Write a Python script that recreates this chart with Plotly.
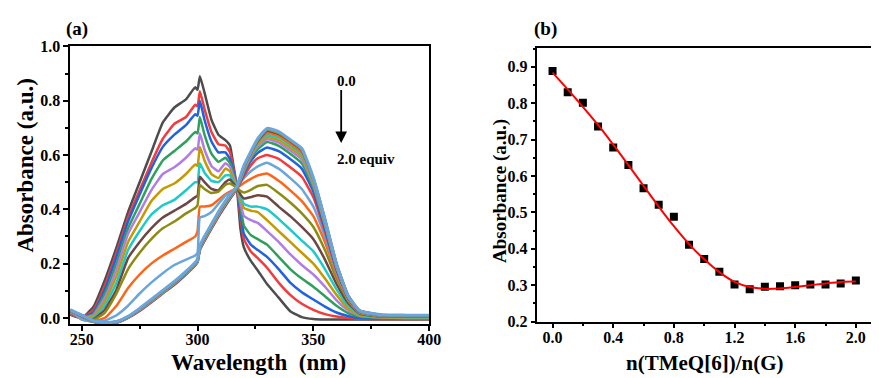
import plotly.graph_objects as go

# ---------------- Panel (a): UV-vis titration spectra ----------------
WL = [245, 250, 255, 260, 265, 270, 275, 280, 285, 290, 295, 299, 300, 301, 303, 306, 309, 312, 314, 315.5,
      317, 318.5, 320, 323, 326, 330, 335, 340, 345, 350, 355, 360, 365, 370, 380, 390, 400]

A00 = [0.012, 0.0, 0.04, 0.14, 0.26, 0.39, 0.50, 0.61, 0.72, 0.775, 0.805, 0.85, 0.84, 0.89, 0.83, 0.73, 0.675, 0.655, 0.635, 0.56,
       0.48, 0.33, 0.26, 0.21, 0.175, 0.125, 0.075, 0.025, 0.003, -0.004, -0.006, -0.006, -0.006, -0.006, -0.006, -0.006, -0.006]
A01 = [0.015, 0.0, 0.03, 0.12, 0.24, 0.37, 0.47, 0.57, 0.66, 0.715, 0.74, 0.785, 0.78, 0.835, 0.77, 0.685, 0.64, 0.635, 0.61, 0.55,
       0.48, 0.37, 0.29, 0.245, 0.22, 0.185, 0.13, 0.085, 0.052, 0.03, 0.014, 0.005, 0.0, -0.003, -0.004, -0.004, -0.004]
A02 = [0.018, 0.0, 0.02, 0.105, 0.225, 0.355, 0.455, 0.55, 0.63, 0.675, 0.71, 0.75, 0.745, 0.80, 0.73, 0.65, 0.61, 0.61, 0.585, 0.54,
       0.48, 0.39, 0.31, 0.27, 0.25, 0.225, 0.18, 0.13, 0.095, 0.068, 0.042, 0.02, 0.007, 0.0, -0.002, -0.003, -0.003]
A03 = [0.02, 0.0, 0.015, 0.09, 0.20, 0.33, 0.42, 0.51, 0.58, 0.615, 0.65, 0.685, 0.68, 0.74, 0.675, 0.605, 0.575, 0.59, 0.57, 0.53,
       0.48, 0.41, 0.34, 0.305, 0.29, 0.27, 0.225, 0.18, 0.145, 0.115, 0.08, 0.045, 0.018, 0.005, 0.0, -0.002, -0.002]
A04 = [0.02, 0.0, 0.01, 0.075, 0.18, 0.31, 0.39, 0.47, 0.53, 0.555, 0.59, 0.625, 0.62, 0.68, 0.62, 0.56, 0.54, 0.57, 0.555, 0.52,
       0.48, 0.425, 0.375, 0.36, 0.35, 0.32, 0.28, 0.235, 0.195, 0.16, 0.115, 0.065, 0.028, 0.008, 0.002, 0.0, 0.0]
A05 = [0.022, 0.0, 0.005, 0.06, 0.155, 0.28, 0.355, 0.43, 0.475, 0.495, 0.53, 0.565, 0.56, 0.63, 0.58, 0.53, 0.515, 0.55, 0.54, 0.51,
       0.48, 0.44, 0.405, 0.395, 0.39, 0.36, 0.32, 0.28, 0.24, 0.2, 0.145, 0.085, 0.035, 0.01, 0.003, 0.002, 0.002]
A06 = [0.024, -0.002, 0.0, 0.045, 0.13, 0.25, 0.32, 0.38, 0.415, 0.435, 0.47, 0.50, 0.50, 0.57, 0.535, 0.505, 0.50, 0.525, 0.525, 0.50,
       0.48, 0.45, 0.42, 0.41, 0.41, 0.40, 0.365, 0.325, 0.285, 0.245, 0.18, 0.105, 0.045, 0.013, 0.004, 0.003, 0.003]
A07 = [0.025, -0.004, -0.005, 0.03, 0.105, 0.22, 0.28, 0.33, 0.37, 0.395, 0.42, 0.445, 0.45, 0.52, 0.50, 0.475, 0.47, 0.50, 0.51, 0.495,
       0.48, 0.455, 0.44, 0.445, 0.452, 0.447, 0.41, 0.375, 0.335, 0.29, 0.215, 0.125, 0.055, 0.016, 0.005, 0.004, 0.004]
A08 = [0.026, -0.005, -0.008, 0.02, 0.09, 0.18, 0.24, 0.29, 0.33, 0.355, 0.385, 0.405, 0.415, 0.49, 0.475, 0.46, 0.465, 0.49, 0.495, 0.488,
       0.48, 0.468, 0.462, 0.472, 0.486, 0.49, 0.46, 0.425, 0.385, 0.335, 0.25, 0.145, 0.063, 0.018, 0.006, 0.005, 0.005]
A09 = [0.026, -0.006, -0.012, 0.0, 0.045, 0.11, 0.16, 0.20, 0.23, 0.255, 0.28, 0.30, 0.32, 0.41, 0.41, 0.415, 0.435, 0.455, 0.465, 0.472,
       0.48, 0.488, 0.497, 0.512, 0.525, 0.532, 0.505, 0.47, 0.43, 0.375, 0.28, 0.16, 0.068, 0.02, 0.007, 0.006, 0.006]
A10 = [0.027, -0.005, -0.015, -0.01, 0.01, 0.045, 0.09, 0.13, 0.165, 0.195, 0.215, 0.23, 0.24, 0.37, 0.375, 0.39, 0.42, 0.45, 0.46, 0.47,
       0.482, 0.50, 0.515, 0.54, 0.558, 0.572, 0.55, 0.515, 0.475, 0.41, 0.30, 0.168, 0.07, 0.021, 0.008, 0.007, 0.007]
A11 = [0.026, 0.006, -0.014, -0.022, -0.018, 0.0, 0.026, 0.057, 0.09, 0.122, 0.16, 0.193, 0.205, 0.25, 0.283, 0.328, 0.372, 0.412, 0.438, 0.456,
       0.476, 0.498, 0.522, 0.562, 0.588, 0.60, 0.586, 0.555, 0.52, 0.445, 0.318, 0.174, 0.072, 0.022, 0.008, 0.007, 0.007]
A12 = [0.027, 0.007, -0.013, -0.021, -0.017, 0.001, 0.028, 0.059, 0.092, 0.124, 0.162, 0.195, 0.207, 0.252, 0.286, 0.331, 0.375, 0.415, 0.44, 0.458,
       0.478, 0.502, 0.532, 0.578, 0.608, 0.628, 0.614, 0.585, 0.55, 0.465, 0.33, 0.18, 0.074, 0.023, 0.008, 0.007, 0.007]
A13 = [0.027, 0.007, -0.012, -0.021, -0.016, 0.002, 0.029, 0.06, 0.093, 0.126, 0.163, 0.196, 0.208, 0.253, 0.288, 0.333, 0.378, 0.418, 0.443, 0.46,
       0.479, 0.506, 0.538, 0.588, 0.622, 0.648, 0.634, 0.605, 0.57, 0.48, 0.34, 0.185, 0.076, 0.024, 0.009, 0.008, 0.008]
A14 = [0.028, 0.008, -0.012, -0.02, -0.016, 0.002, 0.03, 0.061, 0.094, 0.127, 0.164, 0.197, 0.209, 0.254, 0.289, 0.334, 0.379, 0.419, 0.444, 0.461,
       0.48, 0.508, 0.543, 0.594, 0.632, 0.658, 0.646, 0.617, 0.584, 0.49, 0.345, 0.188, 0.077, 0.024, 0.009, 0.008, 0.008]
A15 = [0.028, 0.008, -0.012, -0.02, -0.015, 0.003, 0.031, 0.062, 0.095, 0.128, 0.165, 0.198, 0.21, 0.255, 0.29, 0.335, 0.38, 0.42, 0.445, 0.462,
       0.48, 0.512, 0.548, 0.6, 0.638, 0.666, 0.655, 0.627, 0.595, 0.497, 0.35, 0.19, 0.078, 0.025, 0.009, 0.008, 0.008]
A16 = [0.028, 0.008, -0.011, -0.02, -0.015, 0.003, 0.031, 0.063, 0.096, 0.129, 0.166, 0.199, 0.211, 0.257, 0.292, 0.337, 0.382, 0.422, 0.446, 0.463,
       0.481, 0.514, 0.551, 0.603, 0.644, 0.674, 0.664, 0.636, 0.603, 0.502, 0.353, 0.192, 0.079, 0.025, 0.009, 0.008, 0.008]
A17 = [0.029, 0.009, -0.011, -0.019, -0.014, 0.004, 0.032, 0.064, 0.097, 0.13, 0.167, 0.2, 0.212, 0.259, 0.294, 0.339, 0.384, 0.424, 0.448, 0.464,
       0.482, 0.517, 0.554, 0.606, 0.649, 0.682, 0.671, 0.643, 0.61, 0.507, 0.357, 0.194, 0.08, 0.025, 0.01, 0.009, 0.009]
A18 = [0.029, 0.009, -0.011, -0.019, -0.014, 0.004, 0.033, 0.065, 0.098, 0.131, 0.168, 0.201, 0.213, 0.261, 0.296, 0.341, 0.386, 0.426, 0.45, 0.466,
       0.483, 0.519, 0.556, 0.608, 0.653, 0.689, 0.678, 0.651, 0.618, 0.514, 0.364, 0.2, 0.083, 0.027, 0.01, 0.009, 0.009]
A19 = [0.029, 0.01, -0.01, -0.019, -0.013, 0.005, 0.034, 0.066, 0.099, 0.132, 0.169, 0.202, 0.214, 0.263, 0.298, 0.343, 0.388, 0.428, 0.452, 0.467,
       0.484, 0.52, 0.558, 0.61, 0.656, 0.693, 0.681, 0.653, 0.62, 0.514, 0.362, 0.198, 0.082, 0.026, 0.01, 0.009, 0.009]
A20 = [0.03, 0.01, -0.01, -0.018, -0.013, 0.006, 0.035, 0.068, 0.101, 0.134, 0.171, 0.204, 0.216, 0.266, 0.3, 0.345, 0.39, 0.43, 0.454, 0.469,
       0.485, 0.522, 0.56, 0.612, 0.66, 0.698, 0.686, 0.656, 0.624, 0.515, 0.362, 0.197, 0.081, 0.026, 0.011, 0.01, 0.01]

SPECTRA = [A00, A01, A02, A03, A04, A05, A06, A07, A08, A09, A10,
           A11, A12, A13, A14, A15, A16, A17, A18, A19, A20]
EQUIV = ["0.0", "0.1", "0.2", "0.3", "0.4", "0.5", "0.6", "0.7", "0.8", "0.9", "1.0",
         "1.1", "1.2", "1.3", "1.4", "1.5", "1.6", "1.7", "1.8", "1.9", "2.0"]

GRAY, RED, BLUE, GREEN, PURPLE = "#4D4D4D", "#F43B3B", "#1F62E2", "#2FA05C", "#B07DE6"
GOLD, CYAN, BROWN, OLIVE, ORANGE, LBLUE = "#C49A00", "#1DC9C9", "#6E4646", "#8C8C12", "#FF6516", "#6AA5DC"
COLORS = [GRAY, RED, BLUE, GREEN, PURPLE, GOLD, CYAN, BROWN, OLIVE, ORANGE, LBLUE,
          RED, BLUE, GREEN, PURPLE, GOLD, CYAN, ORANGE, BROWN, OLIVE, LBLUE]

# ---------------- Panel (b): titration curve ----------------
RATIO = [0.0, 0.1, 0.2, 0.3, 0.4, 0.5, 0.6, 0.7, 0.8, 0.9, 1.0,
         1.1, 1.2, 1.3, 1.4, 1.5, 1.6, 1.7, 1.8, 1.9, 2.0]
ABS_PTS = [0.888, 0.830, 0.801, 0.736, 0.678, 0.630, 0.566, 0.521, 0.488, 0.411, 0.372,
           0.337, 0.302, 0.289, 0.296, 0.297, 0.300, 0.302, 0.302, 0.305, 0.313]
ABS_FIT = [0.884, 0.838, 0.790, 0.740, 0.686, 0.630, 0.573, 0.516, 0.462, 0.413, 0.371,
           0.336, 0.309, 0.295, 0.290, 0.291, 0.295, 0.300, 0.305, 0.309, 0.310]

FONT = "Liberation Serif"

fig = go.Figure()
for i, (ys, col) in enumerate(zip(SPECTRA, COLORS)):
    fig.add_trace(go.Scatter(x=WL, y=ys, mode="lines", name=EQUIV[i] + " equiv",
                             line=dict(color=col, width=3.2 if i == 20 else 2.5, shape="spline", smoothing=0.4),
                             xaxis="x", yaxis="y", showlegend=False))

fig.add_trace(go.Scatter(x=RATIO, y=ABS_PTS, mode="markers",
                         marker=dict(symbol="square", size=8, color="black"),
                         xaxis="x2", yaxis="y2", showlegend=False))
fig.add_trace(go.Scatter(x=RATIO, y=ABS_FIT, mode="lines",
                         line=dict(color="#FF0000", width=2, shape="spline", smoothing=1.0),
                         xaxis="x2", yaxis="y2", showlegend=False))

tickfont = dict(family=FONT, size=16, color="black", weight="bold")
common = dict(showline=True, linewidth=1.6, linecolor="black", mirror=True, showgrid=False, zeroline=False,
              ticks="outside", ticklen=5, tickwidth=1.6, tickcolor="black", tickfont=tickfont)
minor_t = dict(ticks="outside", ticklen=3, tickwidth=1.6, tickcolor="black")

fig.update_layout(
    width=879, height=378,
    margin=dict(l=0, r=0, t=0, b=0),
    paper_bgcolor="white", plot_bgcolor="white",
    xaxis=dict(domain=[0.0717, 0.4858], range=[245, 400], tick0=250, dtick=50, anchor="y",
               ticklabelstandoff=-5, minor=dict(dtick=25, **minor_t), **common),
    yaxis=dict(domain=[0.1463, 0.9161], range=[-0.023, 1.0005], tick0=0, dtick=0.2, tickformat=".1f", anchor="x",
               minor=dict(dtick=0.1, **minor_t), **common),
    xaxis2=dict(domain=[0.6106, 0.9954], range=[-0.1, 2.1], tick0=0, dtick=0.4, tickformat=".1f", anchor="y2",
                ticklabelstandoff=-5, minor=dict(dtick=0.2, **minor_t), **common),
    yaxis2=dict(domain=[0.1534, 0.9119], range=[0.2, 0.952], tick0=0.2, dtick=0.1, tickformat=".1f", anchor="x2",
                minor=dict(dtick=0.05, **minor_t), **common),
)

ann = []
def txt(text, x, y, size, xref="paper", yref="paper", xanchor="center", angle=0):
    ann.append(dict(text="<b>" + text + "</b>", x=x, y=y, xref=xref, yref=yref, xanchor=xanchor,
                    yanchor="middle", showarrow=False, textangle=angle,
                    font=dict(family=FONT, size=size, color="black")))

txt("(a)", 0.0797, 0.963, 19)
txt("(b)", 0.620, 0.963, 19)
txt("Wavelength  (nm)", 0.2884, 0.040, 23)
txt("Absorbance (a.u.)", 0.0205, 0.585, 23, angle=-90)
txt("n(TMeQ[6])/n(G)", 0.803, 0.040, 21)
txt("Absorbance (a.u.)", 0.5666, 0.516, 19, angle=-90)
txt("0.0", 364.2, 0.872, 15, xref="x", yref="y")
txt("2.0 equiv", 359.5, 0.587, 15, xref="x", yref="y", xanchor="left")
ann.append(dict(x=362, y=0.644, ax=362, ay=0.845, xref="x", yref="y", axref="x", ayref="y",
                text="", showarrow=True, arrowhead=2, arrowsize=1.3, arrowwidth=1.8, arrowcolor="black"))
fig.update_layout(annotations=ann)

fig.write_html("out.html")
